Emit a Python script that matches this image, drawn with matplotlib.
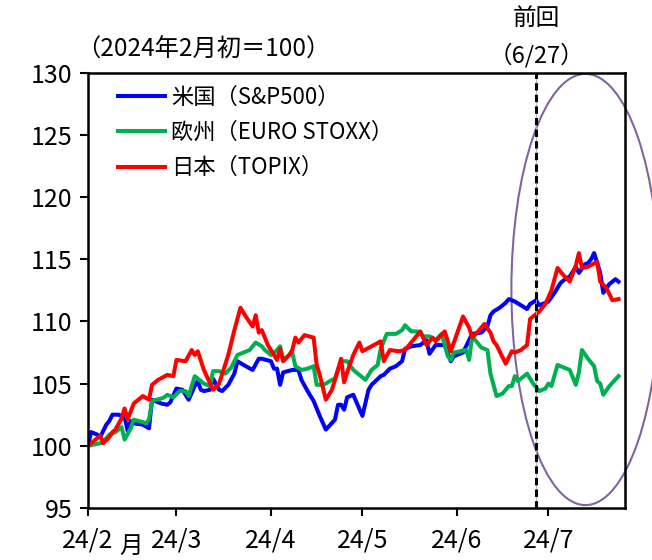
import matplotlib
matplotlib.use("Agg")
import matplotlib.pyplot as plt
from matplotlib.patches import Ellipse
import pandas as pd

plt.rcParams["font.family"] = ["Noto Sans CJK JP", "DejaVu Sans"]

# Data (index, 2024/2 start = 100)
us_dates = ["02-01", "02-02", "02-04", "02-05", "02-07", "02-08", "02-09", "02-11", "02-13", "02-14",
            "02-15", "02-16", "02-19", "02-21", "02-22", "02-25", "02-27", "02-28", "03-01", "03-03",
            "03-05", "03-07", "03-08", "03-09", "03-10", "03-12", "03-13", "03-15", "03-16", "03-18",
            "03-20", "03-21", "03-23", "03-26", "03-28", "03-29", "04-01", "04-02", "04-03", "04-04",
            "04-05", "04-08", "04-10", "04-11", "04-13", "04-15", "04-17", "04-19", "04-22", "04-23",
            "04-24", "04-25", "04-26", "04-28", "05-01", "05-03", "05-04", "05-07", "05-08", "05-10",
            "05-12", "05-14", "05-15", "05-17", "05-20", "05-21", "05-22", "05-23", "05-25", "05-28",
            "05-30", "05-31", "06-03", "06-05", "06-06", "06-09", "06-11", "06-12", "06-13", "06-15",
            "06-17", "06-18", "06-20", "06-22", "06-24", "06-25", "06-27", "06-28", "06-30", "07-01",
            "07-03", "07-05", "07-07", "07-08", "07-10", "07-11", "07-13", "07-14", "07-15", "07-16",
            "07-18", "07-19", "07-21", "07-23", "07-24"]
us_vals = [100.0, 101.1, 100.9, 100.7, 101.7, 102.0, 102.5, 102.5, 102.3, 101.2,
           102.0, 101.8, 101.7, 101.4, 103.7, 103.4, 103.3, 103.5, 104.6, 104.5,
           103.7, 104.8, 105.2, 104.5, 104.4, 104.5, 105.4, 104.5, 104.4, 104.9,
           105.8, 106.8, 106.5, 106.1, 107.0, 107.0, 106.8, 106.2, 106.2, 104.9,
           105.9, 106.1, 106.1, 105.3, 104.4, 103.6, 102.4, 101.3, 102.1, 103.3,
           103.3, 102.9, 103.9, 104.1, 102.4, 104.5, 104.9, 105.6, 105.7, 106.2,
           106.4, 106.8, 107.8, 108.0, 108.1, 108.3, 108.5, 107.4, 108.1, 108.1,
           106.8, 107.2, 107.5, 108.5, 109.0, 109.1, 109.6, 110.5, 110.8, 111.1,
           111.5, 111.8, 111.6, 111.3, 111.0, 111.4, 111.7, 111.3, 111.5, 111.6,
           112.3, 113.1, 113.5, 113.6, 114.4, 113.9, 114.6, 114.7, 115.0, 115.5,
           113.9, 112.3, 113.0, 113.4, 113.2]

eu_dates = ["02-01", "02-03", "02-05", "02-07", "02-08", "02-10", "02-12", "02-13", "02-15", "02-16",
            "02-19", "02-20", "02-21", "02-22", "02-25", "02-26", "02-27", "02-29", "03-02", "03-04",
            "03-05", "03-07", "03-10", "03-12", "03-13", "03-15", "03-17", "03-19", "03-21", "03-23",
            "03-25", "03-27", "03-29", "03-30", "04-01", "04-03", "04-04", "04-05", "04-08", "04-09",
            "04-11", "04-13", "04-15", "04-16", "04-18", "04-19", "04-21", "04-22", "04-24", "04-26",
            "04-28", "04-30", "05-02", "05-04", "05-06", "05-07", "05-09", "05-12", "05-14", "05-15",
            "05-17", "05-19", "05-21", "05-23", "05-25", "05-27", "05-29", "05-30", "05-31", "06-02",
            "06-04", "06-05", "06-06", "06-07", "06-09", "06-11", "06-12", "06-14", "06-16", "06-18",
            "06-19", "06-20", "06-21", "06-24", "06-26", "06-28", "06-30", "07-01", "07-02", "07-04",
            "07-08", "07-10", "07-11", "07-12", "07-14", "07-16", "07-17", "07-18", "07-19", "07-21",
            "07-24"]
eu_vals = [100.0, 100.1, 100.2, 100.6, 100.9, 101.1, 101.5, 100.5, 101.4, 102.1,
           101.9, 101.8, 102.1, 103.6, 103.8, 103.9, 104.1, 103.9, 104.4, 104.4,
           104.0, 105.6, 105.0, 104.8, 106.0, 106.0, 105.8, 106.3, 107.3, 107.5,
           107.7, 108.3, 108.0, 107.7, 107.3, 107.7, 108.0, 106.9, 107.5, 106.4,
           106.1, 106.2, 106.4, 104.9, 104.9, 105.0, 105.3, 105.4, 106.8, 106.8,
           106.1, 105.7, 105.3, 106.1, 106.5, 107.8, 109.0, 109.0, 109.3, 109.7,
           109.2, 109.2, 108.8, 108.8, 108.5, 109.0, 107.2, 106.9, 107.5, 107.6,
           107.7, 106.9, 108.8, 108.5, 107.9, 107.7, 105.8, 104.0, 104.2, 104.8,
           104.8, 105.6, 105.2, 105.8, 105.0, 104.4, 104.6, 105.0, 104.8, 106.5,
           106.1, 104.9, 105.9, 107.7, 107.0, 106.4, 105.2, 105.0, 104.1, 104.8,
           105.6]

jp_dates = ["02-01", "02-03", "02-05", "02-06", "02-08", "02-09", "02-10", "02-12", "02-13", "02-14",
            "02-16", "02-19", "02-21", "02-22", "02-24", "02-27", "02-29", "03-01", "03-04", "03-06",
            "03-07", "03-08", "03-10", "03-13", "03-15", "03-18", "03-20", "03-22", "03-24", "03-26",
            "03-27", "03-28", "03-29", "03-31", "04-02", "04-03", "04-04", "04-05", "04-07", "04-08",
            "04-09", "04-10", "04-12", "04-15", "04-16", "04-17", "04-19", "04-21", "04-22", "04-24",
            "04-25", "04-26", "04-28", "04-30", "05-01", "05-04", "05-07", "05-08", "05-10", "05-13",
            "05-15", "05-20", "05-22", "05-24", "05-25", "05-28", "05-30", "06-01", "06-03", "06-05",
            "06-06", "06-08", "06-10", "06-12", "06-13", "06-14", "06-17", "06-19", "06-20", "06-22",
            "06-24", "06-25", "06-27", "06-28", "06-30", "07-02", "07-04", "07-06", "07-08", "07-10",
            "07-11", "07-12", "07-14", "07-17", "07-18", "07-20", "07-22", "07-24"]
jp_vals = [100.0, 100.4, 100.8, 100.2, 100.7, 101.1, 101.3, 102.2, 103.0, 102.1,
           103.4, 104.0, 103.7, 104.9, 105.3, 105.7, 105.6, 106.9, 106.8, 107.7,
           107.3, 107.6, 106.1, 104.5, 105.0, 107.3, 109.3, 111.1, 110.3, 109.6,
           110.5, 109.1, 109.3, 108.1, 107.3, 106.9, 107.8, 106.8, 107.3, 107.7,
           108.7, 108.3, 108.9, 108.7, 106.5, 105.7, 103.7, 104.5, 105.3, 107.0,
           105.1, 105.9, 107.3, 108.3, 107.6, 108.0, 108.4, 106.8, 107.7, 107.6,
           107.7, 109.2, 108.1, 108.7, 108.4, 109.2, 107.6, 109.0, 110.4, 109.5,
           108.7, 109.2, 109.8, 109.1, 108.4, 108.1, 106.6, 107.6, 107.5, 107.7,
           108.1, 110.2, 110.6, 110.8, 111.4, 112.5, 114.3, 113.7, 113.2, 114.5,
           115.5, 114.3, 114.4, 114.8, 113.2, 112.7, 111.7, 111.8]

series_labels = ["米国（S&P500）", "欧州（EURO STOXX）", "日本（TOPIX）"]
series_colors = ["#0000FF", "#00B050", "#FF0000"]
month_ticks = ["02-01", "03-01", "04-01", "05-01", "06-01", "07-01"]
month_labels = ["24/2", "24/3", "24/4", "24/5", "24/6", "24/7"]
prev_date = "06-27"


def to_dt(days):
    return pd.to_datetime(["2024-" + d for d in days])


fig = plt.figure(figsize=(6.52, 5.6), dpi=100)
ax = fig.add_axes([0.135, 0.093, 0.823, 0.777])

for dates, vals, lab, col in zip([us_dates, eu_dates, jp_dates],
                                 [us_vals, eu_vals, jp_vals],
                                 series_labels, series_colors):
    ax.plot(to_dt(dates), vals, color=col, lw=2.9, label=lab, solid_joinstyle="round")

# previous meeting marker
prev = to_dt([prev_date])[0]
ax.axvline(prev, color="#aaaaaa", lw=0.6)
ax.axvline(prev, color="black", lw=2.2, linestyle=(0, (2.4, 1.4)))

ax.set_xlim(pd.Timestamp("2024-02-01"), pd.Timestamp("2024-07-26"))
ax.set_ylim(95, 130)
ax.set_yticks(range(95, 131, 5))
ax.set_xticks(to_dt(month_ticks))
ax.set_xticklabels(month_labels)
ax.tick_params(axis="both", direction="out", length=6, width=1.5, labelsize=18, colors="black")
ax.tick_params(axis="x", pad=8)
ax.tick_params(axis="y", pad=5)
for s in ax.spines.values():
    s.set_linewidth(1.8)

ax.text(-0.022, 1.053, "（2024年2月初＝100）", transform=ax.transAxes, fontsize=17.5,
        ha="left", va="center")
ax.text(0.080, -0.088, "月", transform=ax.transAxes, fontsize=17, ha="center", va="center")
ax.text(prev, 1.124, "前回", transform=ax.get_xaxis_transform(), fontsize=17,
        ha="center", va="center")
ax.text(prev, 1.041, "（6/27）", transform=ax.get_xaxis_transform(), fontsize=17,
        ha="center", va="center")

ell = Ellipse((0.927, 0.502), 0.276, 0.991, transform=ax.transAxes, fill=False,
              edgecolor="#8064A2", lw=1.5, clip_on=False)
ax.add_patch(ell)

ax.legend(loc="upper left", bbox_to_anchor=(0.056, 0.970), frameon=False, fontsize=16,
          handlelength=2.1, handletextpad=0.3, labelspacing=0.55, borderpad=0,
          borderaxespad=0)

fig.savefig("out.png", dpi=100)
